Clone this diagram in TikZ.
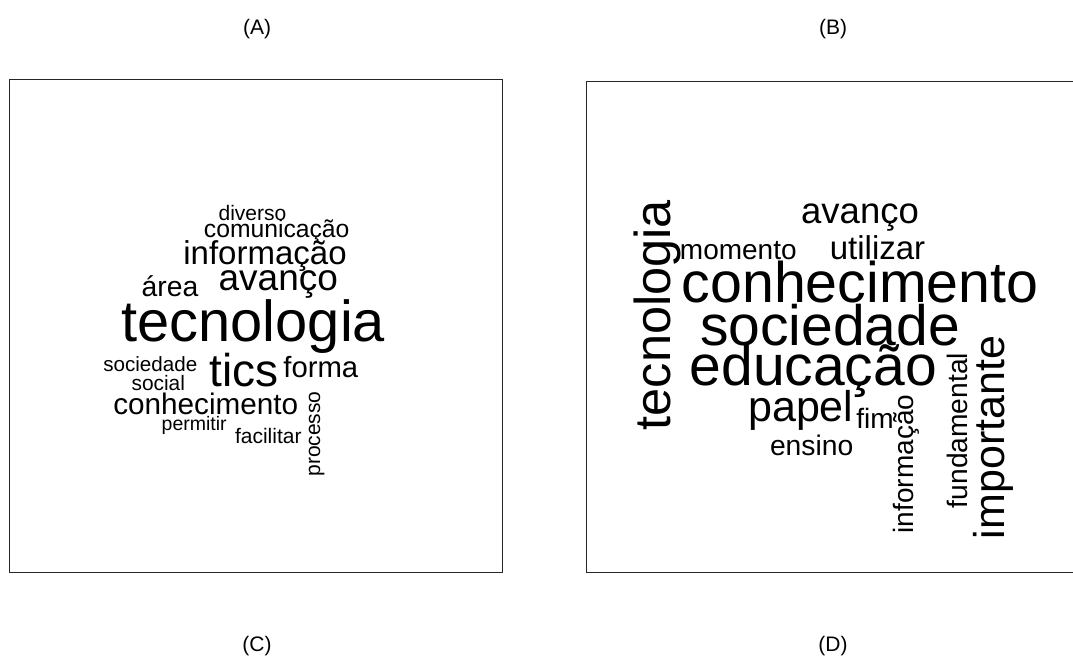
\documentclass[tikz,border=0pt]{standalone}
\usepackage{fontspec}
\setmainfont{Liberation Sans}
\usetikzlibrary{positioning}

\begin{document}
\begin{tikzpicture}[x=1pt, y=-1pt,
  word/.style={inner sep=0pt, anchor=base, font=\fontsize{#1}{#1}\selectfont},
  vword/.style={word=#1, rotate=90},
  panel/.style={draw=black!85, line width=1pt},
  tag/.style={word=21},
]
  \useasboundingbox (0,0) rectangle (1073,659);

  % panel frames
  \draw[panel] (9,79.5) rectangle (502.5,572.5);
  \draw[panel] (1073,81) -- (586,81) -- (586,572) -- (1073,572);

  % panel tags
  \node[tag] (tagA) at (257,34) {(A)};
  \node[tag] (tagB) at (833,34) {(B)};
  \node[tag] (tagC) at (257,651) {(C)};
  \node[tag] (tagD) at (833,651) {(D)};

  % word cloud A
  \node[word=21] (aDiverso) at (252.5,220.2) {diverso};
  \node[word=24.7] (aComunicacao) at (276.7,237) {comunicação};
  \node[word=33] (aInformacao) at (265,264) {informação};
  \node[word=37] (aAvanco) at (278.3,290) {avanço};
  \node[word=28.3] (aArea) at (170,296) {área};
  \node[word=57.8] (aTecnologia) at (253.3,341.7) {tecnologia};
  \node[word=20.6] (aSociedade) at (150.3,371.7) {sociedade};
  \node[word=20.9] (aSocial) at (158.3,390) {social};
  \node[word=46] (aTics) at (244.2,386.7) {tics};
  \node[word=29.3] (aForma) at (320.8,377.3) {forma};
  \node[word=29.7] (aConhecimento) at (205.8,414) {conhecimento};
  \node[word=19.5] (aPermitir) at (194.2,430.7) {permitir};
  \node[word=21] (aFacilitar) at (268.3,443.3) {facilitar};
  \node[vword=21] (aProcesso) at (320,434) {processo};

  % word cloud B
  \node[vword=50.5] (bTecnologia) at (670,315) {tecnologia};
  \node[word=36.5] (bAvanco) at (860,223.3) {avanço};
  \node[word=28] (bMomento) at (738.3,259) {momento};
  \node[word=33] (bUtilizar) at (877.5,259) {utilizar};
  \node[word=57.3] (bConhecimento) at (860,302.5) {conhecimento};
  \node[word=57] (bSociedade) at (830,345) {sociedade};
  \node[word=57] (bEducacao) at (813.3,385) {educação};
  \node[word=43] (bPapel) at (800.8,421.7) {papel};
  \node[word=28] (bFim) at (875,428.3) {fim};
  \node[word=28.3] (bEnsino) at (811.7,455) {ensino};
  \node[vword=28] (bInformacao) at (913,464) {informação};
  \node[vword=28.2] (bFundamental) at (967,430.5) {fundamental};
  \node[vword=43] (bImportante) at (1004,437.5) {importante};
\end{tikzpicture}
\end{document}
